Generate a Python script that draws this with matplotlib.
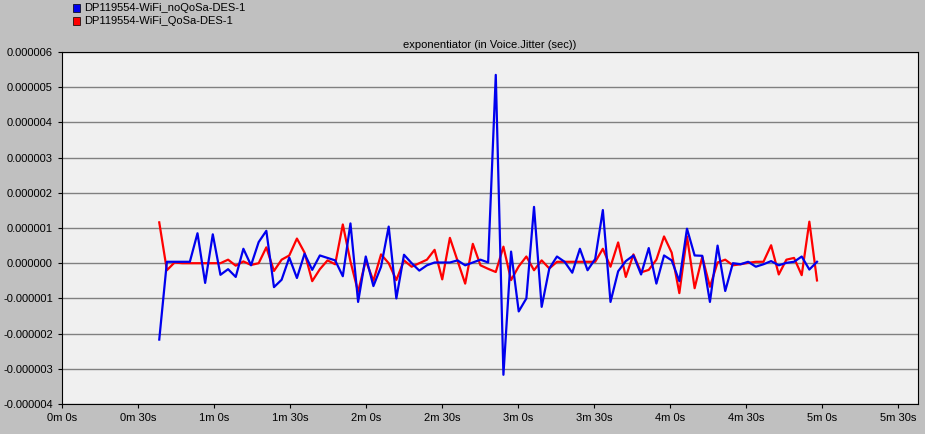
import matplotlib
matplotlib.use("Agg")
import matplotlib.pyplot as plt
from matplotlib.patches import Rectangle

plt.rcParams["font.family"] = "Liberation Sans"

t0 = 38.4
dt = 3.02
blue_vals = [-2.17, 0.04, 0.04, 0.04, 0.04, 0.85, -0.56, 0.82, -0.33, -0.17,
             -0.39, 0.41, -0.06, 0.6, 0.92, -0.68, -0.47, 0.16, -0.42, 0.27,
             -0.19, 0.22, 0.15, 0.08, -0.37, 1.13, -1.1, 0.19, -0.65, -0.1,
             1.04, -1.0, 0.24, 0.0, -0.21, -0.06, 0.02, 0.02, 0.02, 0.08,
             -0.06, 0.02, 0.1, 0.02, 5.35, -3.17, 0.33, -1.37, -1.0, 1.6,
             -1.24, -0.15, 0.19, 0.04, -0.27, 0.41, -0.2, 0.12, 1.51, -1.1,
             -0.23, 0.06, 0.22, -0.32, 0.43, -0.58, 0.22, 0.08, -0.51, 0.98,
             0.22, 0.21, -1.1, 0.5, -0.79, 0.0, -0.03, 0.04, -0.1, -0.03,
             0.06, -0.06, 0.01, 0.04, 0.19, -0.18, 0.04]
red_vals = [1.16, -0.2, 0.02, 0.0, 0.0, 0.0, 0.0, 0.0, 0.0, 0.1,
            -0.07, 0.05, -0.05, 0.0, 0.45, -0.22, 0.1, 0.22, 0.7, 0.3,
            -0.51, -0.17, 0.08, -0.03, 1.1, 0.05, -0.81, 0.08, -0.5, 0.25,
            0.0, -0.48, 0.08, -0.1, 0.0, 0.1, 0.38, -0.46, 0.72, 0.07,
            -0.58, 0.55, -0.06, -0.16, -0.25, 0.47, -0.48, -0.09, 0.19, -0.2,
            0.08, -0.15, 0.04, 0.04, 0.04, 0.04, 0.04, 0.04, 0.41, -0.1,
            0.59, -0.39, 0.25, -0.26, -0.19, 0.1, 0.76, 0.3, -0.85, 0.76,
            -0.71, 0.18, -0.67, 0.02, 0.1, -0.06, -0.03, 0.01, 0.04, 0.04,
            0.51, -0.32, 0.1, 0.15, -0.34, 1.18, -0.49]
times = [t0 + dt * i for i in range(len(blue_vals))]
x_ticks = list(range(0, 331, 30))
x_labels = ["0m 0s", "0m 30s", "1m 0s", "1m 30s", "2m 0s", "2m 30s", "3m 0s",
            "3m 30s", "4m 0s", "4m 30s", "5m 0s", "5m 30s"]
y_ticks = [v * 1e-6 for v in range(-4, 7)]
names = ["DP119554-WiFi_noQoSa-DES-1", "DP119554-WiFi_QoSa-DES-1"]

fig = plt.figure(figsize=(9.25, 4.34), dpi=100, facecolor="#c0c0c0")
ax = fig.add_axes([62/925, 1-404/434, (918-62)/925, (404-52)/434])
ax.set_facecolor("#f0f0f0")
ax.plot(times, [v*1e-6 for v in red_vals], color="#ff0000", lw=1.6, zorder=3)
ax.plot(times, [v*1e-6 for v in blue_vals], color="#0000ee", lw=1.6, zorder=4)
ax.set_xlim(0, 338)
ax.set_ylim(-4e-6, 6e-6)
ax.set_xticks(x_ticks)
ax.set_xticklabels(x_labels)
ax.set_yticks(y_ticks)
ax.set_yticklabels(["%.6f" % v for v in y_ticks])
ax.yaxis.grid(True, color="#808080", lw=1)
ax.set_axisbelow(True)
ax.tick_params(labelsize=8, length=3, color="#000000")
for s in ax.spines.values():
    s.set_color("#000000")
ax.set_title("exponentiator (in Voice.Jitter (sec))", fontsize=8, pad=3)

for i, (n, c) in enumerate(zip(names, ["#0000ee", "#ff0000"])):
    y = 1 - (8 + 13*i)/434
    fig.patches.append(Rectangle((73/925, y - 4/434), 7/925, 8/434,
                                 transform=fig.transFigure, facecolor=c,
                                 edgecolor="#000000", lw=0.5))
    fig.text(84/925, y, n, fontsize=8, va="center", ha="left")

fig.savefig("out.png", dpi=100, facecolor=fig.get_facecolor())
